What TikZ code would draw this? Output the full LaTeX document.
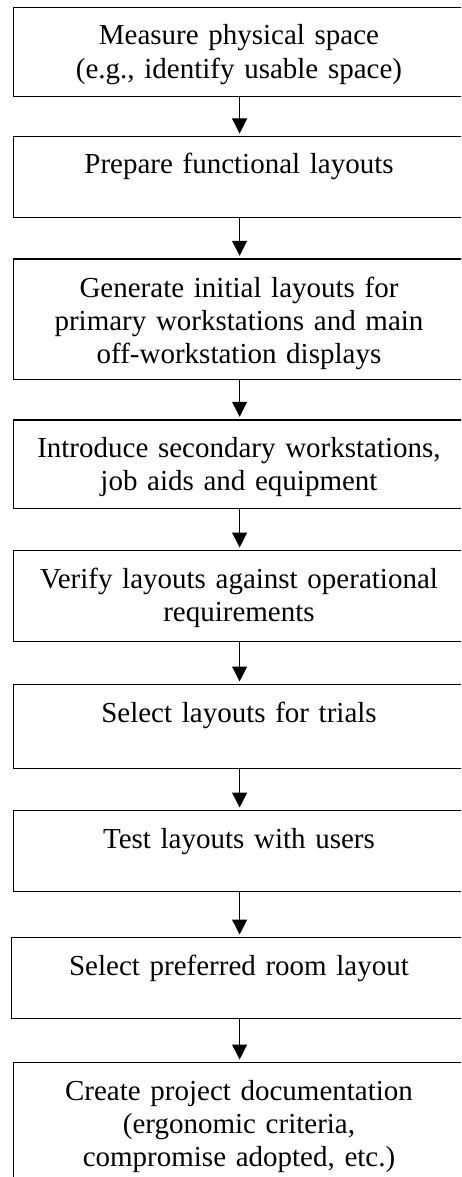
\documentclass[tikz,border=0pt]{standalone}
\usepackage{fontspec}
\setmainfont{Liberation Serif}
\usetikzlibrary{arrows.meta}

\tikzset{
  stepbox/.style={draw=black, line width=1.2pt, rectangle, inner sep=0pt,
    anchor=north west, minimum width=452pt},
  steptext/.style={anchor=base, inner sep=0pt, text width=440pt, align=center,
    font=\fontsize{29}{33.4}\selectfont},
  flow/.style={draw=black, line width=1pt,
    -{Triangle[width=15pt,length=15pt]}, shorten >=2.5pt}
}

\begin{document}
\begin{tikzpicture}[x=1pt, y=-1pt]
  \useasboundingbox (0,0) rectangle (461,1177);
  \clip (0,0) rectangle (461,1177);

  % process boxes (they run past the right edge)
  \node[stepbox, minimum height=89.3pt]  (b1) at (13,6.7)   {};
  \node[stepbox, minimum height=80.7pt]  (b2) at (13,136)   {};
  \node[stepbox, minimum height=120.7pt] (b3) at (13,258.3) {};
  \node[stepbox, minimum height=88.7pt]  (b4) at (13,419.3) {};
  \node[stepbox, minimum height=90.7pt]  (b5) at (13,550)   {};
  \node[stepbox, minimum height=84pt]    (b6) at (13,684)   {};
  \node[stepbox, minimum height=81pt]    (b7) at (13,810)   {};
  \node[stepbox, minimum height=81pt, minimum width=454pt] (b8) at (11,937) {};
  \node[stepbox, minimum height=200pt]   (b9) at (13,1062)  {};

  % box labels
  \node[steptext] (t1) at (239,45)   {Measure physical space\\(e.g., identify usable space)};
  \node[steptext] (t2) at (239,174)  {Prepare functional layouts};
  \node[steptext] (t3) at (239,297)  {Generate initial layouts for\\primary workstations and main\\off-workstation displays};
  \node[steptext] (t4) at (239,457)  {Introduce secondary workstations,\\job aids and equipment};
  \node[steptext] (t5) at (239,588)  {Verify layouts against operational\\requirements};
  \node[steptext] (t6) at (239,722)  {Select layouts for trials};
  \node[steptext] (t7) at (239,848)  {Test layouts with users};
  \node[steptext] (t8) at (239,975)  {Select preferred room layout};
  \node[steptext] (t9) at (239,1100) {Create project documentation\\(ergonomic criteria,\\compromise adopted, etc.)};

  % flow arrows
  \draw[flow] (b1.south) -- (b1.south |- b2.north);
  \draw[flow] (b2.south) -- (b2.south |- b3.north);
  \draw[flow] (b3.south) -- (b3.south |- b4.north);
  \draw[flow] (b4.south) -- (b4.south |- b5.north);
  \draw[flow] (b5.south) -- (b5.south |- b6.north);
  \draw[flow] (b6.south) -- (b6.south |- b7.north);
  \draw[flow] (b7.south) -- (b7.south |- b8.north);
  \draw[flow] (b7.south |- b8.south) -- (b7.south |- b9.north);
\end{tikzpicture}
\end{document}
